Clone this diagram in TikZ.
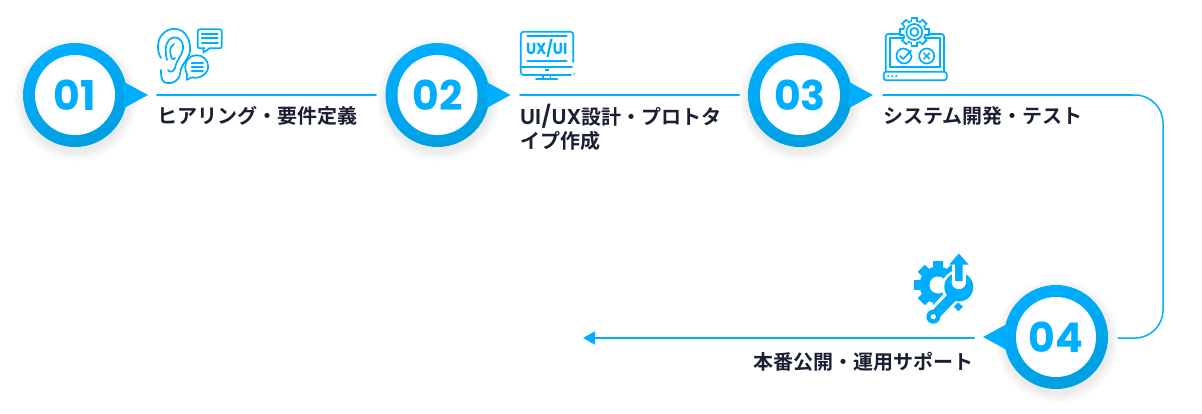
\documentclass[tikz,border=0pt]{standalone}
\usepackage{fontspec}
\usetikzlibrary{arrows.meta}
\newfontfamily\jpfont{Noto Sans CJK JP Bold}
\newfontfamily\numfont{Poppins}[BoldFont=* Bold]
\newfontfamily\latfont{Poppins}[BoldFont=* SemiBold]
\definecolor{stepblue}{HTML}{00AEFF}
\definecolor{stepdark}{HTML}{009FE0}
\definecolor{steptext}{HTML}{1A2033}
\tikzset{
  stepcirc/.style={circle,minimum size=104pt,inner sep=0pt,top color=stepblue,bottom color=stepdark,shading angle=20},
  stepnum/.style={circle,fill=white,minimum size=80pt,inner sep=0pt,text=stepblue,font=\numfont\bfseries\fontsize{41}{41}\selectfont},
  stepline/.style={line width=2pt,color=stepblue},
  steplabel/.style={anchor=west,inner sep=0pt,align=left,text=steptext,font=\jpfont\fontsize{20}{24}\selectfont},
  iconline/.style={line width=1.7pt,color=stepblue,fill=none},
  bothtip/.style={-{Triangle[length=12pt,width=13pt]}}
}
\newcommand{\gearteeth}[5]{% x, y, radius, tooth half width, colour
  \fill[#5] (#1,#2) circle (#3);
  \foreach \a in {0,45,...,315}
    \fill[#5,shift={(#1,#2)},rotate=\a] (-#4,0) rectangle (#4,#3*1.28);
}
\begin{document}
\begin{tikzpicture}[line cap=round,line join=round,x=1pt,y=-1pt]
\useasboundingbox (0,0) rectangle (1202,413);
% soft shadows
\foreach \cx/\cy in {75/95,437.5/95,800/95,1056/337}
  \foreach \r in {53,54,...,62}
    \fill[black,opacity=0.006] (\cx+1,\cy+4) circle (\r);
% connectors
\coordinate (l1a) at (157,95);
\coordinate (l1b) at (376,95);
\coordinate (l2a) at (520,95);
\coordinate (l2b) at (739,95);
\coordinate (l3a) at (883,95);
\coordinate (l3b) at (1132,95);
\coordinate (cr1) at (1163,95);
\coordinate (cr2) at (1163,338);
\coordinate (l3c) at (1118,338);
\coordinate (l4a) at (974,338);
\coordinate (l4b) at (583,338);
\draw[stepline] (l1a) -- (l1b);
\draw[stepline] (l2a) -- (l2b);
\draw[stepline] (l3a) -- (l3b);
\draw[stepline,line width=1.5pt,rounded corners=28pt] (l3b) -- (cr1) -- (cr2) -- (l3c);
\draw[stepline,bothtip] (l4a) -- (l4b);
% circles
\node (circ1) [stepcirc] at (75,95) {};
\node (circ2) [stepcirc] at (437.5,95) {};
\node (circ3) [stepcirc] at (800,95) {};
\node (circ4) [stepcirc] at (1056,337) {};
\fill[stepblue] (circ1.center) ++(49,-13) -- ++(24,13) -- ++(-24,13) -- cycle;
\fill[stepblue] (circ2.center) ++(49,-13) -- ++(24,13) -- ++(-24,13) -- cycle;
\fill[stepblue] (circ3.center) ++(49,-13) -- ++(24,13) -- ++(-24,13) -- cycle;
\fill[stepblue] (circ4.center) ++(-49,-13) -- ++(-24,13) -- ++(24,13) -- cycle;
\node (num1) [stepnum] at (circ1) {01};
\node (num2) [stepnum] at (circ2) {02};
\node (num3) [stepnum] at (circ3) {03};
\node (num4) [stepnum] at (circ4) {04};
% labels
\node (txt1) [steplabel] at (157.5,116) {ヒアリング・要件定義};
\node (txt2) [steplabel,anchor=north west] at (520,104) {{\latfont\bfseries\fontsize{21.5}{24}\selectfont UI/UX}設計・プロトタ\\イプ作成};
\node (txt3) [steplabel] at (883,116) {システム開発・テスト};
\node (txt4) [steplabel] at (753.5,362) {本番公開・運用サポート};
% icon 1: ear and speech bubbles
\draw[iconline] (161,58) .. controls (157,52) and (157,42) .. (161,36) .. controls (165,30) and (172,28) .. (176,29)
  .. controls (186,30) and (191,41) .. (190,51) .. controls (189,60) and (181,63) .. (180,74)
  .. controls (179,81) and (172,84) .. (167,83) .. controls (163,83) and (161,79) .. (161,73) -- (161,70);
\draw[iconline] (167,60) .. controls (165,52) and (165,44) .. (169,40) .. controls (174,35) and (182,37) .. (183,46)
  .. controls (184,54) and (176,60) .. (175,68) .. controls (174,72) and (169,73) .. (168,70);
\draw[iconline] (174,44) .. controls (169,47) and (170,52) .. (171,56) .. controls (172,60) and (174,60) .. (175,58);
\draw[iconline,rounded corners=2pt] (197.7,29.3) rectangle (221.7,48.3);
\fill[white] (204.5,47) rectangle (208.5,49.5);
\draw[iconline] (203.5,48.3) -- (203.5,52.5) -- (209.5,48.3);
\draw[iconline] (201.7,34) -- (217.7,34) (201.7,38.3) -- (217.7,38.3) (201.7,42.7) -- (217.7,42.7);
\draw[iconline] (192,77.3) .. controls (199,79.5) and (208.2,74) .. (208.2,66.7) .. controls (208.2,60) and (203,55.2) .. (196.7,55.2)
  .. controls (190,55.2) and (185.2,60.5) .. (185.2,66.7) .. controls (185.2,70) and (186,72) .. (187,74) -- (186.7,79.8) -- (192,77.3);
\draw[iconline] (191.7,62.7) -- (203,62.7) (191.7,66.7) -- (203,66.7) (191.7,70.7) -- (203,70.7);
% icon 2: monitor
\draw[iconline,rounded corners=3pt] (573.3,62) -- (573.3,31.7) -- (520.7,31.7) -- (520.7,75) -- (571,75);
\draw[iconline] (520.7,66.7) -- (572,66.7);
\draw[iconline] (527.3,36) -- (566.7,36) (527.3,61) -- (566.7,61);
\fill[stepblue] (544.7,69.3) rectangle (548.7,71);
\fill[stepblue] (574,74) circle (0.8);
\draw[iconline] (543,75) -- (543,79.3) (550.5,75) -- (550.5,79.3) (536,79.3) -- (557.3,79.3);
\node (uxui) [inner sep=0pt,text=stepblue,font=\numfont\bfseries\fontsize{16}{16}\selectfont] at (546.7,48.3) {\scalebox{0.9}[1]{UX/UI}};
% icon 3: laptop with gear
\draw[iconline,rounded corners=2.5pt] (885.7,71.7) -- (885.7,34) -- (944,34) -- (944,71.7);
\draw[iconline] (890,67.3) -- (890,38.3) -- (940,38.3) -- (940,67.3) -- cycle;
\draw[iconline,rounded corners=2.5pt] (883.7,71.7) rectangle (946.7,80.3);
\fill[stepblue] (888.3,76) circle (1.1) (892.3,76) circle (1.1) (896.3,76) circle (1.1);
\gearteeth{914.3}{32}{12}{3.6}{stepblue}
\gearteeth{914.3}{32}{10.4}{2.1}{white}
\draw[iconline] (914.3,32) circle (8) (914.3,32) circle (4);
\draw[iconline] (911,55.5) .. controls (910,51) and (906,48.5) .. (903.5,48.5) .. controls (899,48.5) and (896.5,52) .. (896.5,56) .. controls (896.5,60) and (900,63.5) .. (904,63.5) .. controls (908,63.5) and (911.5,60) .. (911.5,56);
\draw[iconline] (900,56) -- (903.3,59) -- (911,50.5);
\draw[iconline] (926.7,56) circle (7.5);
\draw[iconline] (924,53.3) -- (929.4,58.7) (924,58.7) -- (929.4,53.3);
% icon 4: gear, wrench and arrow
\gearteeth{938}{285}{18.5}{5}{stepblue}
\fill[white] (938,285) circle (8.5);
\fill[white] (927.5,311.2) -- (939.1,322.2) -- (965,297) -- (953,284) -- cycle;
\fill[white] (958.8,287) circle (17);
\fill[stepblue] (958.8,287) circle (14.5);
\fill[stepblue] (929.7,313.25) -- (936.9,320.15) -- (961.6,294.45) -- (954.4,287.55) -- cycle;
\fill[stepblue] (933.3,316.7) circle (7);
\fill[white] (933.3,316.7) circle (2.6);
\fill[white] (958.8,282) circle (7.2);
\fill[white] (951.6,262) rectangle (966,282);
\fill[stepblue] (958.8,253.5) -- (968.5,264.5) -- (962.6,264.5) -- (962.6,281) -- (955,281) -- (955,264.5) -- (949.3,264.5) -- cycle;
\fill[stepblue] (958.3,302.5) -- (962.8,306.7) -- (958.3,311.2) -- (953.8,306.7) -- cycle;
\end{tikzpicture}
\end{document}
